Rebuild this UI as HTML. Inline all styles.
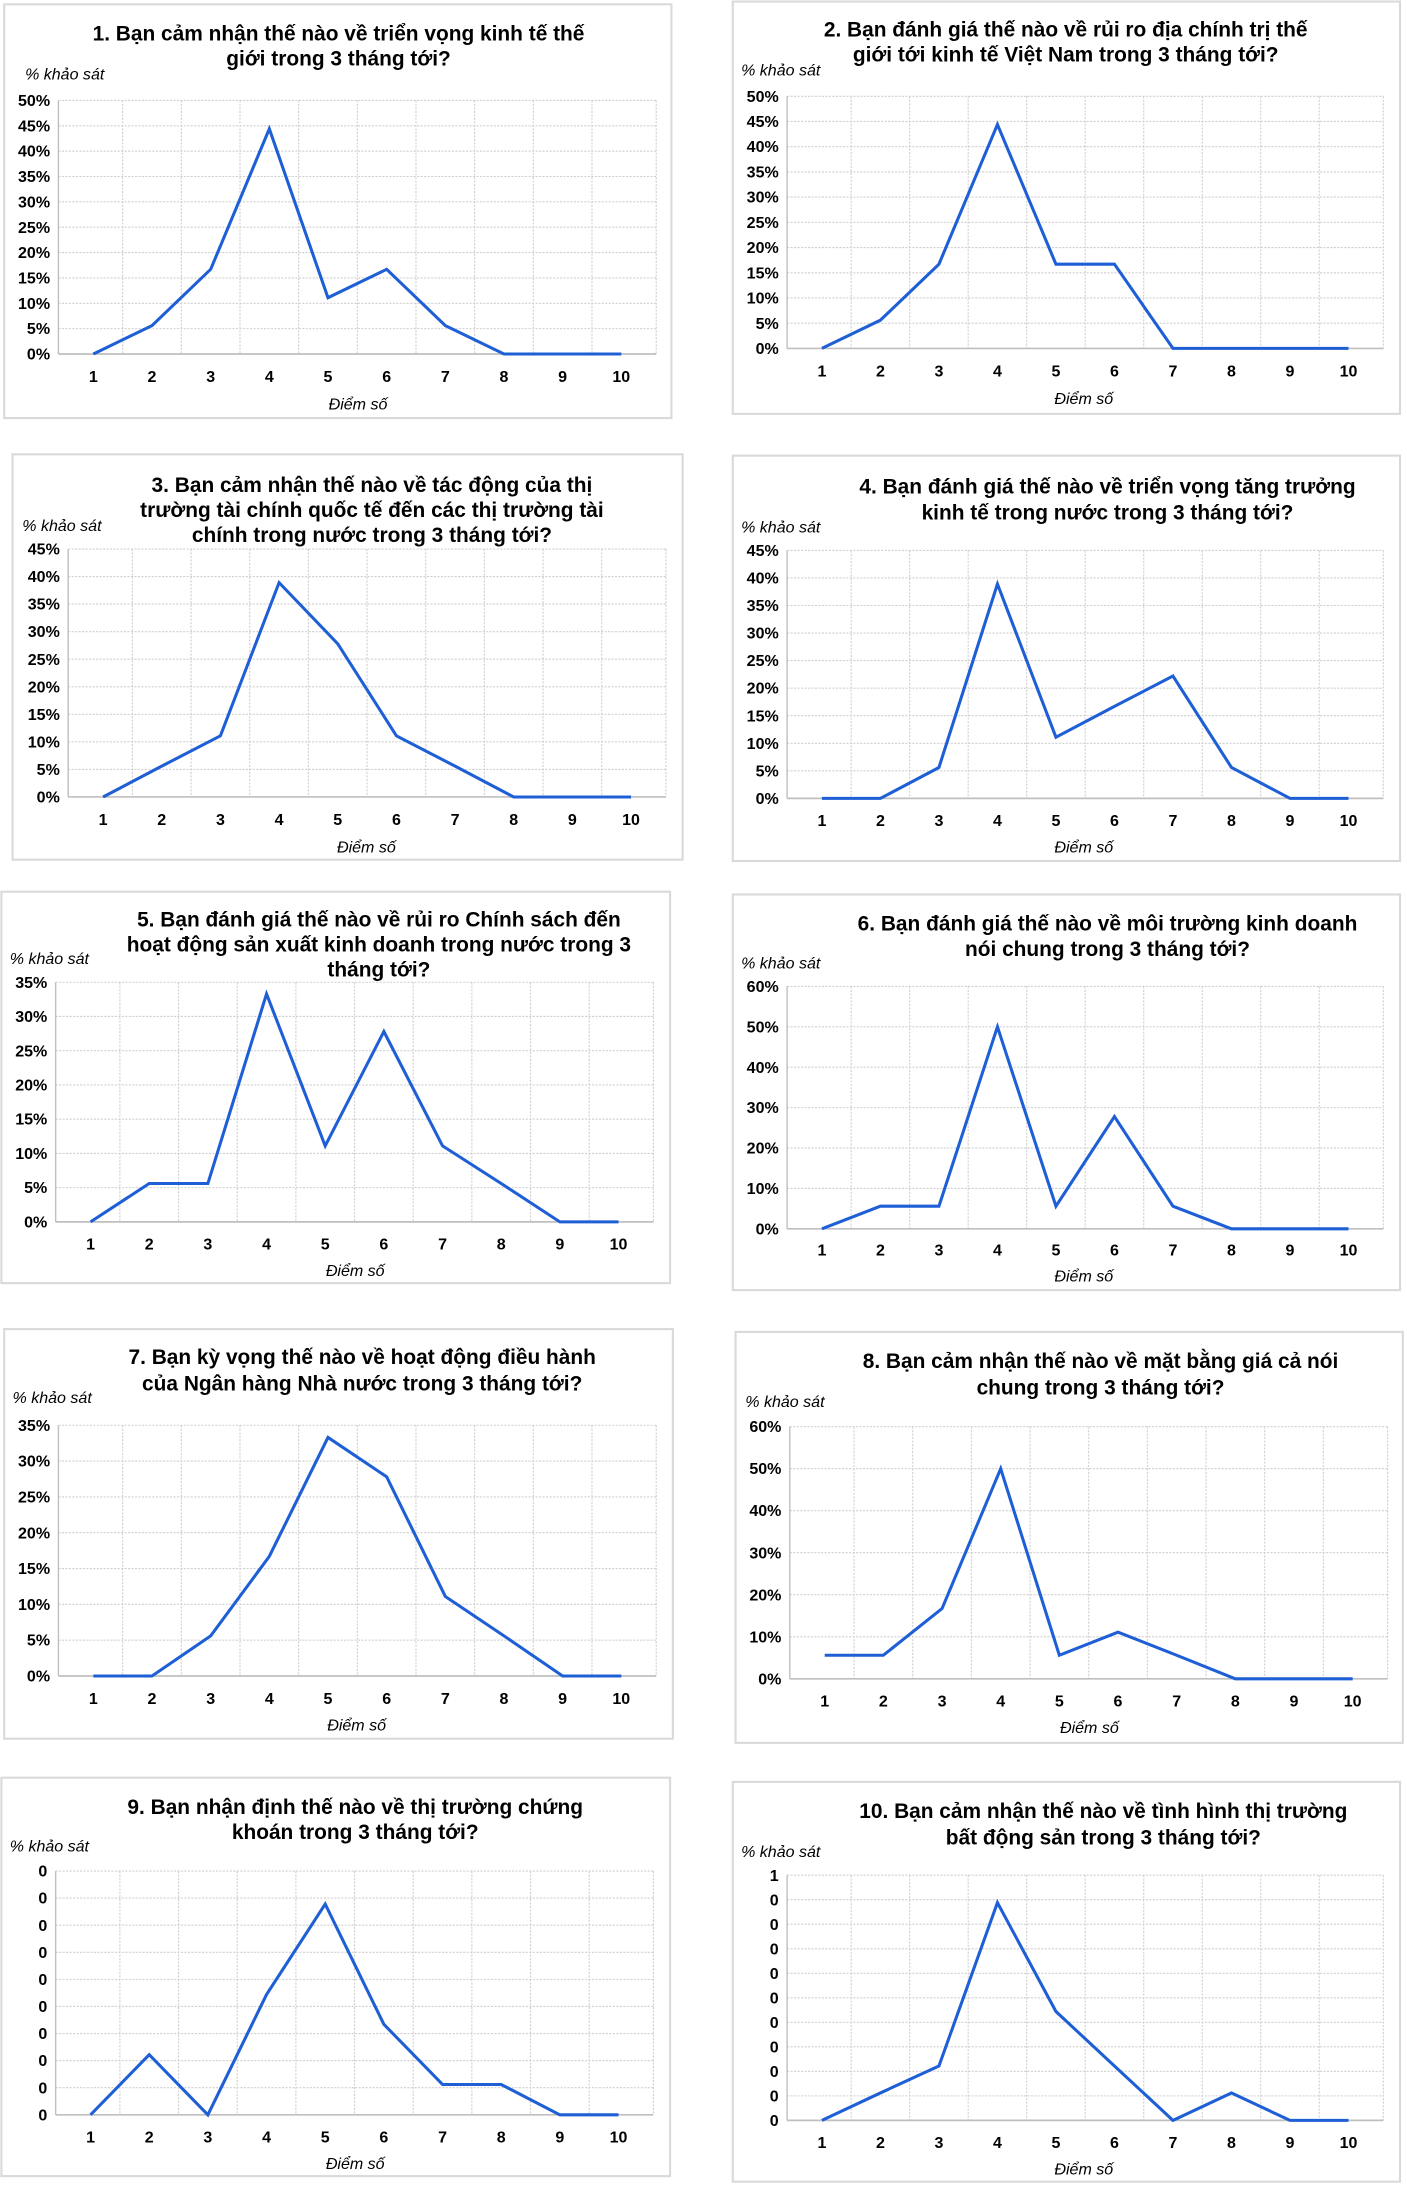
<!DOCTYPE html>
<html><head><meta charset="utf-8"><style>
html,body{margin:0;padding:0;background:#fff;}
svg{display:block;}
text{font-family:"Liberation Sans Narrow","Liberation Sans",sans-serif;fill:#000;}
.t{font-weight:bold;font-size:15px;}
.tk{font-weight:bold;font-size:11.5px;}
.ax{font-style:italic;font-size:11.5px;}
</style></head><body>
<svg id="root" width="1407" height="2186" viewBox="0 0 1010 1569" xmlns="http://www.w3.org/2000/svg"></svg>
<script>
const categories = [1,2,3,4,5,6,7,8,9,10];
const s1 = [0,5.6,16.7,44.4,11.1,16.7,5.6,0,0,0];
const s2 = [0,5.6,16.7,44.4,16.7,16.7,0,0,0,0];
const s3 = [0,5.6,11.1,38.9,27.8,11.1,5.6,0,0,0];
const s4 = [0,0,5.6,38.9,11.1,16.7,22.2,5.6,0,0];
const s5 = [0,5.6,5.6,33.3,11.1,27.8,11.1,5.6,0,0];
const s6 = [0,5.6,5.6,50,5.6,27.8,5.6,0,0,0];
const s7 = [0,0,5.6,16.7,33.3,27.8,11.1,5.6,0,0];
const s8 = [5.6,5.6,16.7,50,5.6,11.1,5.6,0,0,0];
const s9 = [0,11.1,0,22.2,38.9,16.7,5.6,5.6,0,0];
const s10 = [0,5.6,11.1,44.4,22.2,11.1,0,5.6,0,0];
const ticks50 = ["0%","5%","10%","15%","20%","25%","30%","35%","40%","45%","50%"];
const ticks45 = ["0%","5%","10%","15%","20%","25%","30%","35%","40%","45%"];
const ticks35 = ["0%","5%","10%","15%","20%","25%","30%","35%"];
const ticks60 = ["0%","10%","20%","30%","40%","50%","60%"];
const ticks9 = ["0","0","0","0","0","0","0","0","0","0"];
const ticks10 = ["0","0","0","0","0","0","0","0","0","0","1"];
const tickStep = [5,5,5,5,5,10,5,10,5,5];

const panels = [
 {box:[3,3,479,297],x1:67,x10:446,y0:254,yT:72,max:50,ticks:ticks50,data:s1,step:5,
  title:["1. Bạn cảm nhận thế nào về triển vọng kinh tế thế","giới trong 3 tháng tới?"],ty:[29,47],tc:243,ks:[18,57],xl:274,dx:257,dy:294},
 {box:[526,1,479,296],x1:590,x10:968,y0:250,yT:69,max:50,ticks:ticks50,data:s2,step:5,
  title:["2. Bạn đánh giá thế nào về rủi ro địa chính trị thế","giới tới kinh tế Việt Nam trong 3 tháng tới?"],ty:[26,44],tc:765,ks:[532,54],xl:270,dx:778,dy:290},
 {box:[9,326,481,291],x1:74,x10:453,y0:572,yT:394,max:45,ticks:ticks45,data:s3,step:5,
  title:["3. Bạn cảm nhận thế nào về tác động của thị","trường tài chính quốc tế đến các thị trường tài","chính trong nước trong 3 tháng tới?"],ty:[353,371,389],tc:267,ks:[16,381],xl:592,dx:263,dy:612},
 {box:[526,327,479,291],x1:590,x10:968,y0:573,yT:395,max:45,ticks:ticks45,data:s4,step:5,
  title:["4. Bạn đánh giá thế nào về triển vọng tăng trưởng","kinh tế trong nước trong 3 tháng tới?"],ty:[354,373],tc:795,ks:[532,382],xl:593,dx:778,dy:612},
 {box:[1,640,480,281],x1:65,x10:444,y0:877,yT:705,max:35,ticks:ticks35,data:s5,step:5,
  title:["5. Bạn đánh giá thế nào về rủi ro Chính sách đến","hoạt động sản xuất kinh doanh trong nước trong 3","tháng tới?"],ty:[665,683,701],tc:272,ks:[7,692],xl:897,dx:255,dy:916},
 {box:[526,642,479,284],x1:590,x10:968,y0:882,yT:708,max:60,ticks:ticks60,data:s6,step:10,
  title:["6. Bạn đánh giá thế nào về môi trường kinh doanh","nói chung trong 3 tháng tới?"],ty:[668,686],tc:795,ks:[532,695],xl:901,dx:778,dy:920},
 {box:[3,954,480,294],x1:67,x10:446,y0:1203,yT:1023,max:35,ticks:ticks35,data:s7,step:5,
  title:["7. Bạn kỳ vọng thế nào về hoạt động điều hành","của Ngân hàng Nhà nước trong 3 tháng tới?"],ty:[979,998],tc:260,ks:[9,1007],xl:1223,dx:256,dy:1242},
 {box:[528,956,479,295],x1:592,x10:971,y0:1205,yT:1024,max:60,ticks:ticks60,data:s8,step:10,
  title:["8. Bạn cảm nhận thế nào về mặt bằng giá cả nói","chung trong 3 tháng tới?"],ty:[982,1001],tc:790,ks:[535,1010],xl:1225,dx:782,dy:1244},
 {box:[1,1276,480,286],x1:65,x10:444,y0:1518,yT:1343,max:45,ticks:ticks9,data:s9,step:5,
  title:["9. Bạn nhận định thế nào về thị trường chứng","khoán trong 3 tháng tới?"],ty:[1302,1320],tc:255,ks:[7,1329],xl:1538,dx:255,dy:1557},
 {box:[526,1279,479,287],x1:590,x10:968,y0:1522,yT:1346,max:50,ticks:ticks10,data:s10,step:5,
  title:["10. Bạn cảm nhận thế nào về tình hình thị trường","bất động sản trong 3 tháng tới?"],ty:[1305,1324],tc:792,ks:[532,1333],xl:1542,dx:778,dy:1561}
];
const NS="http://www.w3.org/2000/svg";
const root=document.getElementById('root');
function mk(tag,attrs,parent){const e=document.createElementNS(NS,tag);for(const k in attrs)e.setAttribute(k,attrs[k]);parent.appendChild(e);return e;}
panels.forEach((p,i)=>{
  const n=i+1;
  const g=mk('g',{},root);
  
  
  const b=mk('rect',{x:p.box[0],y:p.box[1],width:p.box[2],height:p.box[3],fill:'#fff',stroke:'#d9d9d9','stroke-width':1.5},g);
  
  
  const sp=(p.x10-p.x1)/9;
  const xs=c=>p.x1+(c-1)*sp;
  const ys=v=>p.y0-(v/p.max)*(p.y0-p.yT);
  const left=p.x1-sp/2-4, right=p.x10+sp/2+4;
  // grid
  for(let k=0;k<p.ticks.length;k++){
    const y=ys(k*p.step);
    if(k>0){const l=mk('line',{x1:left,x2:right,y1:y,y2:y,stroke:'#d0d0d0','stroke-width':0.8,'stroke-dasharray':'1.5,1'},g);
      }
    const t=mk('text',{x:left-6,y:y+4,'text-anchor':'end',class:'tk'},g);
    t.textContent=p.ticks[k];
    
    
  }
  for(let c=1;c<=10;c++){
    const gx=c<10?xs(c)+sp/2:right;
    const l=mk('line',{x1:gx,x2:gx,y1:p.yT,y2:p.y0,stroke:'#d0d0d0','stroke-width':0.8,'stroke-dasharray':'1.5,1'},g);
    
  }
  const ax=mk('line',{x1:left,x2:left,y1:p.yT,y2:p.y0,stroke:'#bfbfbf','stroke-width':1},g);
  
  const bx=mk('line',{x1:left,x2:right,y1:p.y0,y2:p.y0,stroke:'#bfbfbf','stroke-width':1.2},g);
  
  categories.forEach(c=>{
    const t=mk('text',{x:xs(c),y:p.xl,'text-anchor':'middle',class:'tk'},g);
    t.textContent=c;
    
    
  });
  const pts=p.data.map((v,k)=>xs(categories[k])+','+ys(v)).join(' ');
  const line=mk('polyline',{points:pts,fill:'none',stroke:'#1f5fd6','stroke-width':2.2,'stroke-linejoin':'miter'},g);
  
  
  p.title.forEach((s,k)=>{
    const t=mk('text',{x:p.tc,y:p.ty[k],'text-anchor':'middle',class:'t'},g);
    t.textContent=s;
    
    
  });
  const ks=mk('text',{x:p.ks[0],y:p.ks[1],class:'ax'},g);
  ks.textContent='% khảo sát';
  
  
  const dx=mk('text',{x:p.dx,y:p.dy,'text-anchor':'middle',class:'ax'},g);
  dx.textContent='Điểm số';
  
  
});
</script>
</body></html>
